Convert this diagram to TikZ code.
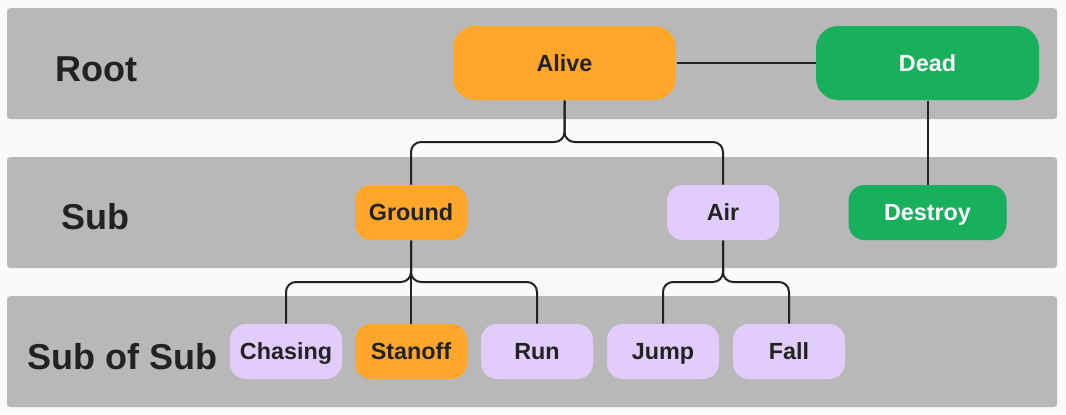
\documentclass[tikz,border=0pt]{standalone}
\usepackage{fontspec}
\setmainfont{Liberation Sans}
\definecolor{pagebg}{HTML}{FAFAFA}
\definecolor{bandgray}{HTML}{B8B8B8}
\definecolor{aliveorange}{HTML}{FFA62B}
\definecolor{deadgreen}{HTML}{18B05C}
\definecolor{lavender}{HTML}{E2CCFB}
\definecolor{inkdark}{HTML}{222222}
\tikzset{every picture/.style={line width=0.75pt}}

\begin{document}
\begin{tikzpicture}[x=0.75pt,y=0.75pt,yscale=-1,xscale=1,
    band/.style={fill=bandgray,draw=none,rounded corners=2.5pt},
    rowlabel/.style={anchor=west,inner sep=0pt,text=inkdark,text height=19.3pt,text depth=0pt,font=\fontsize{27}{31}\selectfont\bfseries},
    bigstate/.style={minimum width=167.25pt,minimum height=55.5pt,inner sep=0pt,rounded corners=16.5pt,text height=12.5pt,text depth=0pt,font=\fontsize{17.5}{21}\selectfont\bfseries},
    smallstate/.style={minimum width=84pt,minimum height=41.25pt,inner sep=0pt,rounded corners=12pt,text height=12.5pt,text depth=0pt,font=\fontsize{17.5}{21}\selectfont\bfseries},
    orangebox/.style={fill=aliveorange,text=inkdark},
    greenbox/.style={fill=deadgreen,text=white},
    lavbox/.style={fill=lavender,text=inkdark},
    link/.style={draw=inkdark,line width=1.5pt,rounded corners=7.5pt}]
        \useasboundingbox (0,0) rectangle (1066,414);
        \fill[pagebg] (0,0) rectangle (1066,414);

        % bands
        \path[band] (7,8) rectangle (1057,119);
        \path[band] (7,157) rectangle (1057,268);
        \path[band] (7,296) rectangle (1057,407);

        \node[rowlabel] (lroot) at (55,68.5) {Root};
        \node[rowlabel] (lsub) at (61,217) {Sub};
        \node[rowlabel] (lsubsub) at (27,357) {Sub of Sub};

        % states
        \node[bigstate,orangebox] (alive) at (564.5,63) {Alive};
        \node[bigstate,greenbox] (dead) at (927.5,63) {Dead};

        \node[smallstate,orangebox] (ground) at (411,212.5) {Ground};
        \node[smallstate,lavbox] (air) at (723,212.5) {Air};
        \node[smallstate,greenbox,minimum width=118.5pt] (destroy) at (927.5,212.5) {Destroy};

        \node[smallstate,lavbox] (chasing) at (286,351.5) {Chasing};
        \node[smallstate,orangebox] (stanoff) at (411,351.5) {Stanoff};
        \node[smallstate,lavbox] (run) at (537,351.5) {Run};
        \node[smallstate,lavbox] (jump) at (663,351.5) {Jump};
        \node[smallstate,lavbox] (fall) at (789,351.5) {Fall};

        % connectors
        \coordinate (alivejoin) at (564.5,142);
        \coordinate (groundjoin) at (411,282);
        \coordinate (airjoin) at (723,282);

        \draw[link] (alive.east) -- (dead.west);
        \draw[link] (dead.south) -- (destroy.north);

        \draw[link] (alive.south) -- (alivejoin) -- (alivejoin -| ground.north) -- (ground.north);
        \draw[link] (alive.south) -- (alivejoin) -- (alivejoin -| air.north) -- (air.north);

        \draw[link] (ground.south) -- (groundjoin) -- (groundjoin -| chasing.north) -- (chasing.north);
        \draw[link] (ground.south) -- (stanoff.north);
        \draw[link] (ground.south) -- (groundjoin) -- (groundjoin -| run.north) -- (run.north);

        \draw[link] (air.south) -- (airjoin) -- (airjoin -| jump.north) -- (jump.north);
        \draw[link] (air.south) -- (airjoin) -- (airjoin -| fall.north) -- (fall.north);
    \end{tikzpicture}
\end{document}
